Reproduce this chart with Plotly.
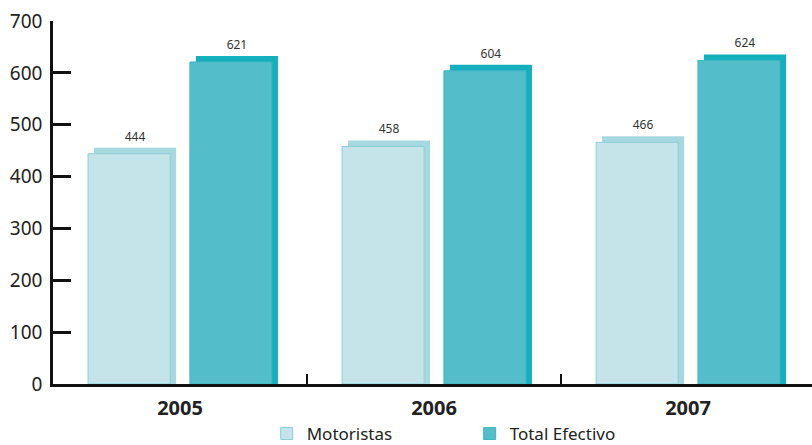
import plotly.graph_objects as go

years = ["2005", "2006", "2007"]
motoristas = [444, 458, 466]
total_efectivo = [621, 604, 624]
y_ticks = [0, 100, 200, 300, 400, 500, 600, 700]

DEPTH = 11.6   # depth of the 3D look, in value units
W = 0.323
SHIFT = 0.0236

fig = go.Figure()

# back (depth) bars
fig.add_trace(go.Bar(
    x=years, y=[v + DEPTH for v in motoristas], width=W, offset=-0.362 + SHIFT,
    marker=dict(color="#A6D9DF", line=dict(width=0)),
    text=[str(v) for v in motoristas], textposition="outside",
    textfont=dict(size=12, color="#333333", family="Noto Sans"),
    cliponaxis=False, showlegend=False, hoverinfo="skip"))
fig.add_trace(go.Bar(
    x=years, y=[v + DEPTH for v in total_efectivo], width=W, offset=0.039 + SHIFT,
    marker=dict(color="#14AFBD", line=dict(width=0)),
    text=[str(v) for v in total_efectivo], textposition="outside",
    textfont=dict(size=12, color="#333333", family="Noto Sans"),
    cliponaxis=False, showlegend=False, hoverinfo="skip"))

# front bars
fig.add_trace(go.Bar(
    name="Motoristas", x=years, y=motoristas, width=W, offset=-0.362,
    marker=dict(color="#C5E4E9", line=dict(color="#8DCFD6", width=1))))
fig.add_trace(go.Bar(
    name="Total Efectivo", x=years, y=total_efectivo, width=W, offset=0.039,
    marker=dict(color="#53BDC9", line=dict(color="#3FB6C3", width=1))))

fig.update_layout(
    width=812, height=445,
    margin=dict(l=53, r=0, t=21, b=61, autoexpand=False),
    plot_bgcolor="white", paper_bgcolor="white",
    barmode="overlay",
    font=dict(family="Noto Sans", color="#222222"),
    xaxis=dict(
        range=[-0.5, 2.488], showline=True, linecolor="#111111", linewidth=2.5,
        ticks="inside", tickson="boundaries", ticklen=10, tickwidth=2, tickcolor="#111111",
        tickfont=dict(size=20, color="#222222", family="Noto Sans", weight="bold"),
        ticklabelstandoff=4,
        showgrid=False, zeroline=False),
    yaxis=dict(
        range=[0, 700], tickvals=y_ticks, showline=True, linecolor="#111111", linewidth=2.5,
        ticks="inside", ticklen=18, tickwidth=2.5, tickcolor="#111111",
        tickfont=dict(size=19, color="#222222", family="Noto Sans"),
        ticklabelstandoff=4,
        showgrid=False, zeroline=False),
    legend=dict(
        orientation="h", x=0.549, xanchor="center", y=-0.088, yanchor="top",
        font=dict(size=17, color="#222222", family="Noto Sans"),
        entrywidth=158, traceorder="normal"),
)

fig.write_html(
    "out.html",
    config={"displayModeBar": False},
    post_script="document.body.style.margin='0';document.body.style.overflow='hidden';",
)
